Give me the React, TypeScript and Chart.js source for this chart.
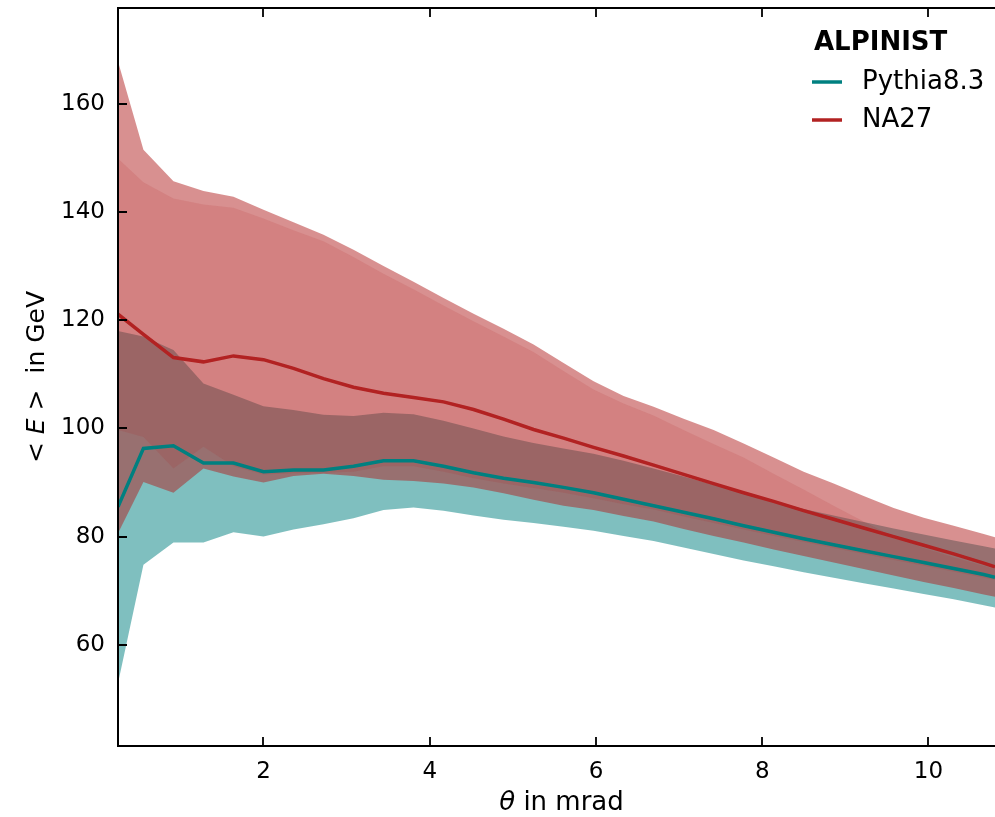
import React, { useEffect, useRef } from 'react';
import { Chart, registerables } from 'chart.js';

Chart.register(...registerables);

// theta in mrad
const theta = [
  0.25, 0.556, 0.917, 1.278, 1.639, 2.0, 2.361, 2.722, 3.083, 3.444, 3.805,
  4.166, 4.527, 4.888, 5.249, 5.61, 5.971, 6.332, 6.693, 7.054, 7.415, 7.776,
  8.137, 8.498, 8.859, 9.22, 9.581, 9.942, 10.303, 10.664, 10.8,
];

// Pythia8.3 mean energy and band (GeV)
const pythiaMean = [
  85.5, 96.3, 96.8, 93.6, 93.6, 92.0, 92.3, 92.3, 93.0, 94.0, 94.0, 93.0, 91.8,
  90.8, 90.0, 89.1, 88.1, 86.9, 85.7, 84.5, 83.3, 82.0, 80.8, 79.6, 78.5, 77.4,
  76.3, 75.2, 74.1, 73.0, 72.5,
];
const pythiaHigh = [
  118.0, 117.0, 114.5, 108.3, 106.2, 104.1, 103.4, 102.5, 102.3, 102.9, 102.6,
  101.4, 100.0, 98.5, 97.3, 96.3, 95.3, 94.0, 92.6, 91.1, 89.6, 88.1, 86.6,
  85.1, 83.9, 82.7, 81.5, 80.4, 79.3, 78.2, 77.8,
];
const pythiaLow = [
  52.9, 74.8, 78.9, 78.9, 80.8, 80.0, 81.3, 82.3, 83.4, 84.9, 85.4, 84.8, 83.9,
  83.1, 82.5, 81.8, 81.1, 80.1, 79.2, 78.0, 76.8, 75.6, 74.5, 73.4, 72.4, 71.4,
  70.4, 69.4, 68.4, 67.3, 66.9,
];

// NA27 mean energy and bands (GeV)
const na27Mean = [
  121.1, 117.4, 113.1, 112.3, 113.4, 112.7, 111.1, 109.2, 107.6, 106.5, 105.7,
  104.9, 103.5, 101.7, 99.8, 98.2, 96.5, 94.9, 93.2, 91.5, 89.8, 88.1, 86.5,
  84.8, 83.2, 81.6, 80.0, 78.4, 76.8, 75.1, 74.4,
];
const na27OuterHigh = [
  167.8, 151.5, 145.7, 143.9, 142.8, 140.4, 138.1, 135.8, 133.0, 130.0, 127.1,
  124.1, 121.2, 118.4, 115.5, 112.1, 108.7, 106.0, 104.0, 101.8, 99.7, 97.2,
  94.6, 92.0, 89.8, 87.5, 85.3, 83.5, 82.0, 80.5, 79.9,
];
const na27OuterLow = [
  80.6, 90.1, 88.1, 92.6, 91.1, 90.0, 91.2, 91.6, 91.2, 90.5, 90.3, 89.8, 89.1,
  88.0, 86.8, 85.7, 84.9, 83.8, 82.8, 81.4, 80.1, 78.9, 77.6, 76.4, 75.2, 74.0,
  72.8, 71.6, 70.5, 69.3, 68.9,
];
const na27InnerHigh = [
  149.9, 145.5, 142.5, 141.4, 140.8, 138.8, 136.6, 134.6, 131.7, 128.6, 125.7,
  122.7, 119.8, 117.0, 114.1, 110.6, 107.2, 104.6, 102.4, 99.7, 97.1, 94.6,
  91.6, 88.7, 85.7, 82.8, 80.0, 77.9, 76.2, 74.6, 74.0,
];
const na27InnerLow = [
  99.7, 98.4, 92.6, 96.6, 93.0, 91.5, 91.7, 91.8, 92.0, 93.0, 93.0, 92.0, 90.8,
  89.8, 89.0, 88.1, 87.1, 86.0, 85.0, 83.7, 82.5, 81.3, 80.1, 79.0, 77.9, 76.8,
  75.7, 74.6, 73.5, 72.4, 72.0,
];

const xTicks = [2, 4, 6, 8, 10];
const yTicks = [60, 80, 100, 120, 140, 160];
const xLimits = [0.25, 10.8];
const yLimits = [41.3, 177.7];

const legendTitle = 'ALPINIST';
const seriesNames = ['Pythia8.3', 'NA27'];

const TEAL = '#008080';
const RED = '#b22222';
const FONT = "'DejaVu Sans', sans-serif";

const pts = (ys: number[]) => theta.map((x, i) => ({ x, y: ys[i] }));

function drawPieces(ctx: CanvasRenderingContext2D, pieces: { t: string; it?: boolean }[], size: number) {
  let total = 0;
  const widths = pieces.map((p) => {
    ctx.font = `${p.it ? 'italic ' : ''}${size}px ${FONT}`;
    const w = ctx.measureText(p.t).width;
    total += w;
    return w;
  });
  let cx = -total / 2;
  pieces.forEach((p, i) => {
    ctx.font = `${p.it ? 'italic ' : ''}${size}px ${FONT}`;
    ctx.fillText(p.t, cx, 0);
    cx += widths[i];
  });
}

const framePlugin = {
  id: 'frame',
  afterDraw(chart: any) {
    const { ctx, chartArea: a, scales } = chart;
    const xs = scales.x;
    const ys = scales.y;
    ctx.save();
    ctx.strokeStyle = '#000';
    ctx.lineWidth = 2;
    ctx.beginPath();
    ctx.moveTo(a.left, a.top);
    ctx.lineTo(a.right, a.top);
    ctx.moveTo(a.left, a.top - 1);
    ctx.lineTo(a.left, a.bottom + 1);
    ctx.moveTo(a.left, a.bottom);
    ctx.lineTo(a.right, a.bottom);
    ctx.stroke();

    ctx.lineWidth = 1.8;
    ctx.beginPath();
    xTicks.forEach((v) => {
      const px = Math.round(xs.getPixelForValue(v));
      ctx.moveTo(px, a.bottom);
      ctx.lineTo(px, a.bottom - 9);
      ctx.moveTo(px, a.top);
      ctx.lineTo(px, a.top + 9);
    });
    yTicks.forEach((v) => {
      const py = Math.round(ys.getPixelForValue(v));
      ctx.moveTo(a.left, py);
      ctx.lineTo(a.left + 9, py);
    });
    ctx.stroke();

    // axis titles
    ctx.fillStyle = '#000';
    ctx.textBaseline = 'alphabetic';
    ctx.save();
    ctx.translate((a.left + a.right) / 2 + 5, 810);
    drawPieces(ctx, [{ t: 'θ', it: true }, { t: ' in mrad' }], 26);
    ctx.restore();
    ctx.save();
    ctx.translate(44, (a.top + a.bottom) / 2);
    ctx.rotate(-Math.PI / 2);
    drawPieces(ctx, [{ t: '< ' }, { t: 'E', it: true }, { t: ' >' }, { t: '  in GeV' }], 25);
    ctx.restore();

    // legend
    ctx.textBaseline = 'middle';
    ctx.textAlign = 'left';
    ctx.font = `bold 26px ${FONT}`;
    ctx.fillText(legendTitle, 814, 43);
    const colors = [TEAL, RED];
    seriesNames.forEach((name, i) => {
      const yy = 82 + i * 38;
      ctx.strokeStyle = colors[i];
      ctx.lineWidth = 3.5;
      ctx.beginPath();
      ctx.moveTo(812, yy);
      ctx.lineTo(842, yy);
      ctx.stroke();
      ctx.font = `26px ${FONT}`;
      ctx.fillText(name, 862, yy);
    });
    ctx.restore();
  },
};

export default function App() {
  const ref = useRef<HTMLCanvasElement | null>(null);

  useEffect(() => {
    document.body.style.margin = '0';
    const canvas = ref.current;
    if (!canvas) return;
    const band = (data: number[], fillTarget: number | false, color: string, order: number) => ({
      data: pts(data),
      borderColor: 'rgba(0,0,0,0)',
      borderWidth: 0,
      pointRadius: 0,
      fill: fillTarget === false ? false : { target: fillTarget },
      backgroundColor: color,
      order,
      tension: 0,
    });
    const chart = new Chart(canvas, {
      type: 'line',
      data: {
        datasets: [
          {
            label: seriesNames[0],
            data: pts(pythiaMean),
            borderColor: TEAL,
            borderWidth: 3.5,
            pointRadius: 0,
            fill: false,
            order: 0,
            tension: 0,
          },
          {
            label: seriesNames[1],
            data: pts(na27Mean),
            borderColor: RED,
            borderWidth: 3.5,
            pointRadius: 0,
            fill: false,
            order: 0,
            tension: 0,
          },
          band(pythiaLow, false, 'rgba(0,0,0,0)', 3),
          band(pythiaHigh, 2, 'rgba(0,128,128,0.5)', 3),
          band(na27OuterLow, false, 'rgba(0,0,0,0)', 2),
          band(na27OuterHigh, 4, 'rgba(178,34,34,0.5)', 2),
          band(na27InnerLow, false, 'rgba(0,0,0,0)', 1),
          band(na27InnerHigh, 6, 'rgba(178,34,34,0.13)', 1),
        ] as any,
      },
      options: {
        animation: false,
        responsive: false,
        devicePixelRatio: 1,
        layout: { padding: { top: 8, left: 0, right: 0, bottom: 0 } },
        plugins: { legend: { display: false }, tooltip: { enabled: false } },
        scales: {
          x: {
            type: 'linear',
            min: xLimits[0],
            max: xLimits[1],
            grid: { display: false },
            border: { display: false },
            ticks: {
              color: '#000',
              font: { family: FONT, size: 23 },
              padding: 4,
              maxRotation: 0,
              autoSkip: false,
            },
            afterBuildTicks: (s: any) => {
              s.ticks = xTicks.map((v) => ({ value: v }));
            },
            afterFit: (s: any) => {
              s.height = 71;
              s.paddingLeft = 0;
              s.paddingRight = 0;
              s.paddingTop = 0;
              s.paddingBottom = 0;
            },
          },
          y: {
            type: 'linear',
            min: yLimits[0],
            max: yLimits[1],
            grid: { display: false },
            border: { display: false },
            ticks: {
              color: '#000',
              font: { family: FONT, size: 23 },
              padding: 5,
              autoSkip: false,
            },
            afterBuildTicks: (s: any) => {
              s.ticks = yTicks.map((v) => ({ value: v }));
            },
            afterFit: (s: any) => {
              s.width = 118;
              s.paddingLeft = 0;
              s.paddingRight = 0;
              s.paddingTop = 0;
              s.paddingBottom = 0;
            },
          },
        },
      } as any,
      plugins: [framePlugin],
    });
    return () => chart.destroy();
  }, []);

  return (
    <div style={{ width: 995, height: 817, position: 'relative', background: '#fff' }}>
      <canvas ref={ref} width={995} height={817} style={{ display: 'block' }} />
    </div>
  );
}
